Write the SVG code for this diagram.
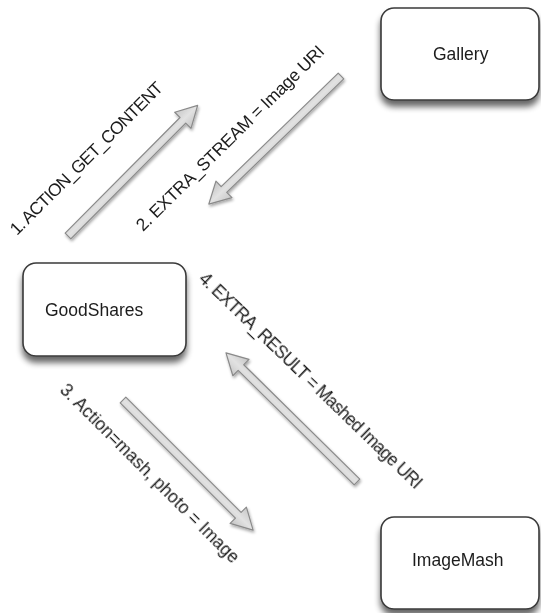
<svg xmlns="http://www.w3.org/2000/svg" width="541" height="613" viewBox="0 0 541 613">
<defs>
<filter id="boxShadow" x="-20%" y="-20%" width="140%" height="150%">
<feGaussianBlur in="SourceAlpha" stdDeviation="3"/>
<feOffset dx="0" dy="6" result="b"/>
<feComponentTransfer><feFuncA type="linear" slope="0.6"/></feComponentTransfer>
<feMerge><feMergeNode/><feMergeNode in="SourceGraphic"/></feMerge>
</filter>
<filter id="arrowShadow" x="-20%" y="-30%" width="140%" height="160%">
<feGaussianBlur in="SourceAlpha" stdDeviation="1.5"/>
<feOffset dx="1" dy="2"/>
<feComponentTransfer><feFuncA type="linear" slope="0.35"/></feComponentTransfer>
<feMerge><feMergeNode/><feMergeNode in="SourceGraphic"/></feMerge>
</filter>
<linearGradient id="arrowFill" x1="0" y1="0" x2="0" y2="1">
<stop offset="0" stop-color="#c8c8c8"/>
<stop offset="0.5" stop-color="#e2e2e2"/>
<stop offset="1" stop-color="#c4c4c4"/>
</linearGradient>
<path id="blockArrow" d="M0,-4 L163,-4 L163,-11.5 L184,0 L163,11.5 L163,4 L0,4 Z"/>
</defs>
<style>
.box{fill:#fff;stroke:#3a3a3a;stroke-width:1.6}
.node{font-family:"Liberation Sans",Arial,sans-serif;font-size:17.5px;fill:#1c1c1c}
.lbl{font-family:"Liberation Sans",Arial,sans-serif;font-size:17.5px;fill:#1c1c1c}
.arr{fill:url(#arrowFill);stroke:#8a8a8a;stroke-width:1.2;stroke-linejoin:round}
</style>
<rect width="541" height="613" fill="#fff"/>

<g id="connectors">
<g filter="url(#arrowShadow)">
<use href="#blockArrow" class="arr" transform="translate(68,236) rotate(-45.2)"/>
<use href="#blockArrow" class="arr" transform="translate(341,76) rotate(135.9)"/>
<use href="#blockArrow" class="arr" transform="translate(123,400) rotate(45)"/>
<use href="#blockArrow" class="arr" transform="translate(357,482) rotate(-135.4)"/>
</g>
<text class="lbl" transform="translate(17,236) rotate(-45)" textLength="208" lengthAdjust="spacing">1. ACTION_GET_CONTENT</text>
<text class="lbl" transform="translate(143,232) rotate(-44.5)" textLength="256" lengthAdjust="spacing">2. EXTRA_STREAM = Image URI</text>
<text class="lbl" transform="translate(59,391) rotate(45)" textLength="245" lengthAdjust="spacing">3. Action=mash, photo = Image</text>
<text class="lbl" transform="translate(198,280) rotate(44)" textLength="302" lengthAdjust="spacing">4. EXTRA_RESULT = Mashed Image URI</text>
</g>

<g id="gallery">
<rect class="box" x="381" y="8" width="158" height="92" rx="13" filter="url(#boxShadow)"/>
<text class="node" x="433" y="60">Gallery</text>
</g>

<g id="goodshares">
<rect class="box" x="23" y="263" width="163" height="93" rx="13" filter="url(#boxShadow)"/>
<text class="node" x="45" y="316">GoodShares</text>
</g>

<g id="imagemash">
<rect class="box" x="381" y="517" width="158" height="92" rx="13" filter="url(#boxShadow)"/>
<text class="node" x="412" y="566">ImageMash</text>
</g>
</svg>
